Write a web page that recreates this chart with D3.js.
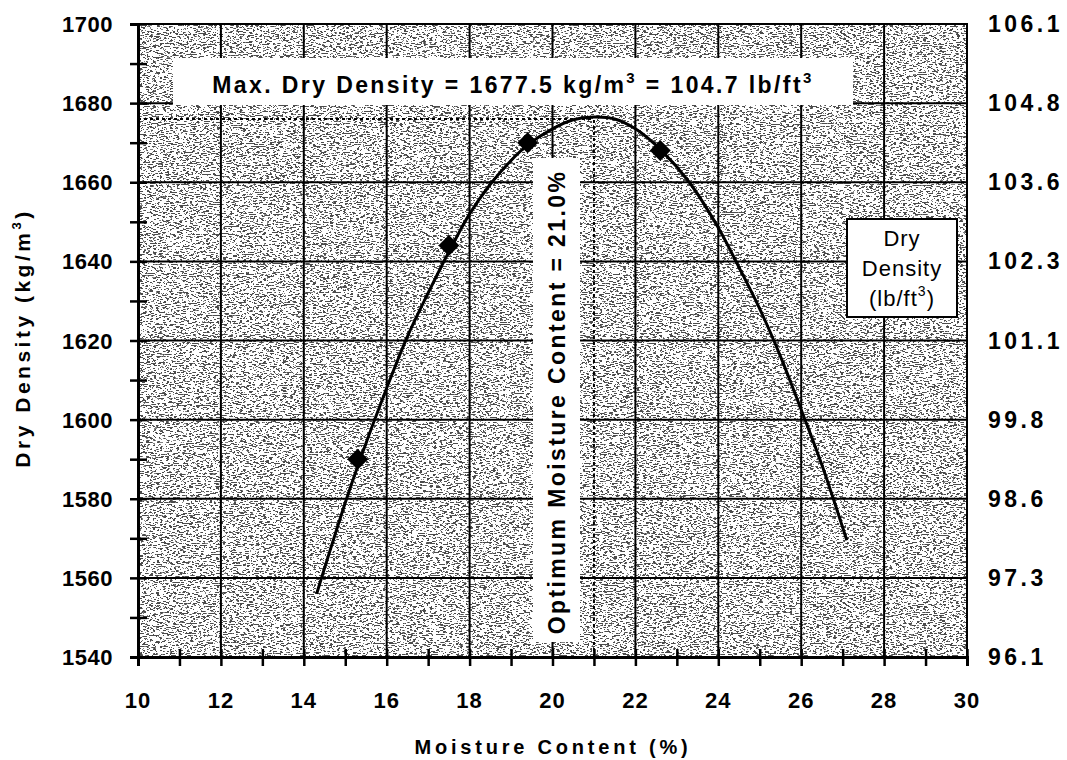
<!DOCTYPE html>
<html>
<head>
<meta charset="utf-8">
<script src="https://cdn.jsdelivr.net/npm/d3@7"></script>
<style>
  body { margin: 0; background: #fff; }
  text { font-family: Arial, "Liberation Sans", sans-serif; fill: #000; }
</style>
</head>
<body>
<div class="board"></div>
<script>
// proctor compaction curve

var moisture = [15.3, 17.5, 19.4, 22.6];
var density  = [1590, 1644, 1670, 1668];

// fitted curve
var curveX = [14.31, 15.0, 15.36, 16.0, 16.5, 17.0, 17.53, 18.0, 18.5, 19.0, 19.41, 20.0, 20.5, 21.0, 21.5, 22.0, 22.63, 23.3, 24.0, 24.5, 25.0, 25.5, 26.0, 26.5, 27.1];
var curveY = [1556, 1579, 1590, 1608, 1621, 1632, 1643, 1652, 1659.5, 1665.5, 1669.5, 1673.5, 1675.8, 1676.5, 1676, 1673.5, 1668, 1660, 1648.5, 1638.5, 1628, 1616, 1602.5, 1588.5, 1569.5];

var xTicks = [10, 12, 14, 16, 18, 20, 22, 24, 26, 28, 30];
var yTicks = [1540, 1560, 1580, 1600, 1620, 1640, 1660, 1680, 1700];
var rightLabels = ["96.1", "97.3", "98.6", "99.8", "101.1", "102.3", "103.6", "104.8", "106.1"];

var optMoisture = 21.0;
var maxDensity = 1676;

var W = 1067, H = 760;
var pLeft = 138, pRight = 967, pTop = 24, pBottom = 657;

var svg = d3.select(".board").append("svg")
            .attr("width", W)
            .attr("height", H);

var x = d3.scaleLinear().domain([10, 30]).range([pLeft, pRight]);
var y = d3.scaleLinear().domain([1540, 1700]).range([pBottom, pTop]);

// scanned grey background
var defs = svg.append("defs");
var f = defs.append("filter").attr("id", "grain")
            .attr("x", 0).attr("y", 0).attr("width", "100%").attr("height", "100%")
            .attr("color-interpolation-filters", "sRGB");
f.append("feTurbulence").attr("type", "fractalNoise")
 .attr("baseFrequency", "0.3 0.9").attr("numOctaves", 3).attr("seed", 7);
f.append("feColorMatrix").attr("type", "matrix")
 .attr("values", "0 0 0 0 0  0 0 0 0 0  0 0 0 0 0  1.6 0 0 0 -0.3");
f.append("feComponentTransfer").append("feFuncA")
 .attr("type", "discrete")
 .attr("tableValues", "0 0 0 0 0 0 0 0 0 0 0 0 0.7 1 1 1 1 1 1 1");

svg.append("rect")
   .attr("x", pLeft).attr("y", pTop)
   .attr("width", pRight - pLeft).attr("height", pBottom - pTop)
   .style("fill", "#fff");
svg.append("rect")
   .attr("x", pLeft).attr("y", pTop)
   .attr("width", pRight - pLeft).attr("height", pBottom - pTop)
   .attr("filter", "url(#grain)")
   .style("fill", "#000")
   .style("opacity", 0.7);

// grid
svg.append("g").selectAll("line")
   .data(xTicks.slice(1, -1))
   .enter().append("line")
   .attr("x1", d => x(d)).attr("x2", d => x(d))
   .attr("y1", pTop).attr("y2", pBottom)
   .style("stroke", "#000").style("stroke-width", 2);
svg.append("g").selectAll("line")
   .data(yTicks.slice(1, -1))
   .enter().append("line")
   .attr("x1", pLeft).attr("x2", pRight)
   .attr("y1", d => y(d)).attr("y2", d => y(d))
   .style("stroke", "#000").style("stroke-width", 2);

// frame
svg.append("rect")
   .attr("x", pLeft).attr("y", pTop)
   .attr("width", pRight - pLeft).attr("height", pBottom - pTop)
   .style("fill", "none").style("stroke", "#000").style("stroke-width", 2);

// dotted guides to the peak
svg.append("line")
   .attr("x1", pLeft).attr("x2", x(optMoisture))
   .attr("y1", y(maxDensity)).attr("y2", y(maxDensity))
   .style("stroke", "#000").style("stroke-width", 2).style("stroke-dasharray", "3,3");
svg.append("line")
   .attr("x1", x(optMoisture)).attr("x2", x(optMoisture))
   .attr("y1", pBottom).attr("y2", y(maxDensity))
   .style("stroke", "#000").style("stroke-width", 2).style("stroke-dasharray", "3,3");

// text boxes
svg.append("rect")
   .attr("x", 173).attr("y", 58).attr("width", 680).attr("height", 47)
   .style("fill", "#fff");
var t1 = svg.append("text")
   .attr("x", 513).attr("y", 93)
   .attr("text-anchor", "middle")
   .style("font-size", "23px").style("font-weight", "bold")
   .style("letter-spacing", "2.4px");
t1.append("tspan").text("Max. Dry Density = 1677.5 kg/m");
t1.append("tspan").attr("dy", -10).style("font-size", "15px").text("3");
t1.append("tspan").attr("dy", 10).text(" = 104.7 lb/ft");
t1.append("tspan").attr("dy", -10).style("font-size", "15px").text("3");

svg.append("rect")
   .attr("x", 533).attr("y", 158).attr("width", 47).attr("height", 484)
   .style("fill", "#fff");
svg.append("text")
   .attr("transform", "translate(565,402) rotate(-90)")
   .attr("text-anchor", "middle")
   .style("font-size", "23px").style("font-weight", "bold")
   .style("letter-spacing", "2.4px")
   .text("Optimum Moisture Content = 21.0%");

// curve
var pts = curveX.map((d, i) => [d, curveY[i]]);
var line = d3.line()
             .x(d => x(d[0]))
             .y(d => y(d[1]))
             .curve(d3.curveCatmullRom);
svg.append("path")
   .datum(pts)
   .attr("d", line)
   .style("fill", "none").style("stroke", "#000").style("stroke-width", 3);

// points
svg.selectAll("path.pt")
   .data(moisture)
   .enter().append("path")
   .attr("class", "pt")
   .attr("d", d3.symbol().type(d3.symbolSquare).size(220))
   .attr("transform", (d, i) => "translate(" + x(d) + "," + y(density[i]) + ") rotate(45)")
   .style("fill", "#000");

// legend box for right axis
svg.append("rect")
   .attr("x", 847).attr("y", 219).attr("width", 110).attr("height", 98)
   .style("fill", "#fff").style("stroke", "#000").style("stroke-width", 2);
var lg = svg.append("text").attr("text-anchor", "middle")
            .style("font-size", "22px").style("letter-spacing", "1px");
lg.append("tspan").attr("x", 902).attr("y", 246).text("Dry");
lg.append("tspan").attr("x", 902).attr("y", 276).text("Density");
lg.append("tspan").attr("x", 902).attr("y", 306).text("(lb/ft");
lg.append("tspan").attr("dy", -10).style("font-size", "14px").text("3");
lg.append("tspan").attr("dy", 10).text(")");

// axes
var xAxis = svg.append("g")
   .attr("transform", "translate(0," + pBottom + ")")
   .call(d3.axisBottom(x).ticks(20).tickSize(9).tickFormat(""));
xAxis.selectAll(".tick line").attr("y1", -8).style("stroke-width", 2.5);
xAxis.select(".domain").style("stroke-width", 3);

svg.append("g").selectAll("text")
   .data(xTicks)
   .enter().append("text")
   .attr("x", d => x(d)).attr("y", 708)
   .attr("text-anchor", "middle")
   .style("font-size", "22px").style("font-weight", "bold")
   .style("letter-spacing", "1px")
   .text(d => d);

var yAxis = svg.append("g")
   .attr("transform", "translate(" + pLeft + ",0)")
   .call(d3.axisLeft(y).ticks(16).tickSize(8).tickFormat(""));
yAxis.selectAll(".tick line").attr("x1", 9).style("stroke-width", 2.5);
yAxis.select(".domain").style("stroke-width", 3);

svg.append("g").selectAll("text")
   .data(yTicks)
   .enter().append("text")
   .attr("x", 113).attr("y", d => y(d) + 8)
   .attr("text-anchor", "end")
   .style("font-size", "22px").style("font-weight", "bold")
   .style("letter-spacing", "0.5px")
   .text(d => d);

svg.append("g").selectAll("text")
   .data(rightLabels)
   .enter().append("text")
   .attr("x", 988).attr("y", (d, i) => y(yTicks[i]) + 8)
   .style("font-size", "23px").style("font-weight", "bold")
   .style("letter-spacing", "3.5px")
   .text(d => d);

// titles
svg.append("text")
   .attr("x", 553).attr("y", 754)
   .attr("text-anchor", "middle")
   .style("font-size", "20px").style("font-weight", "bold")
   .style("letter-spacing", "3.8px")
   .text("Moisture Content (%)");

var yt = svg.append("text")
   .attr("transform", "translate(30,338) rotate(-90)")
   .attr("text-anchor", "middle")
   .style("font-size", "21px").style("font-weight", "bold")
   .style("letter-spacing", "3.5px");
yt.append("tspan").text("Dry Density (kg/m");
yt.append("tspan").attr("dy", -9).style("font-size", "13px").text("3");
yt.append("tspan").attr("dy", 9).text(")");
</script>
</body>
</html>
